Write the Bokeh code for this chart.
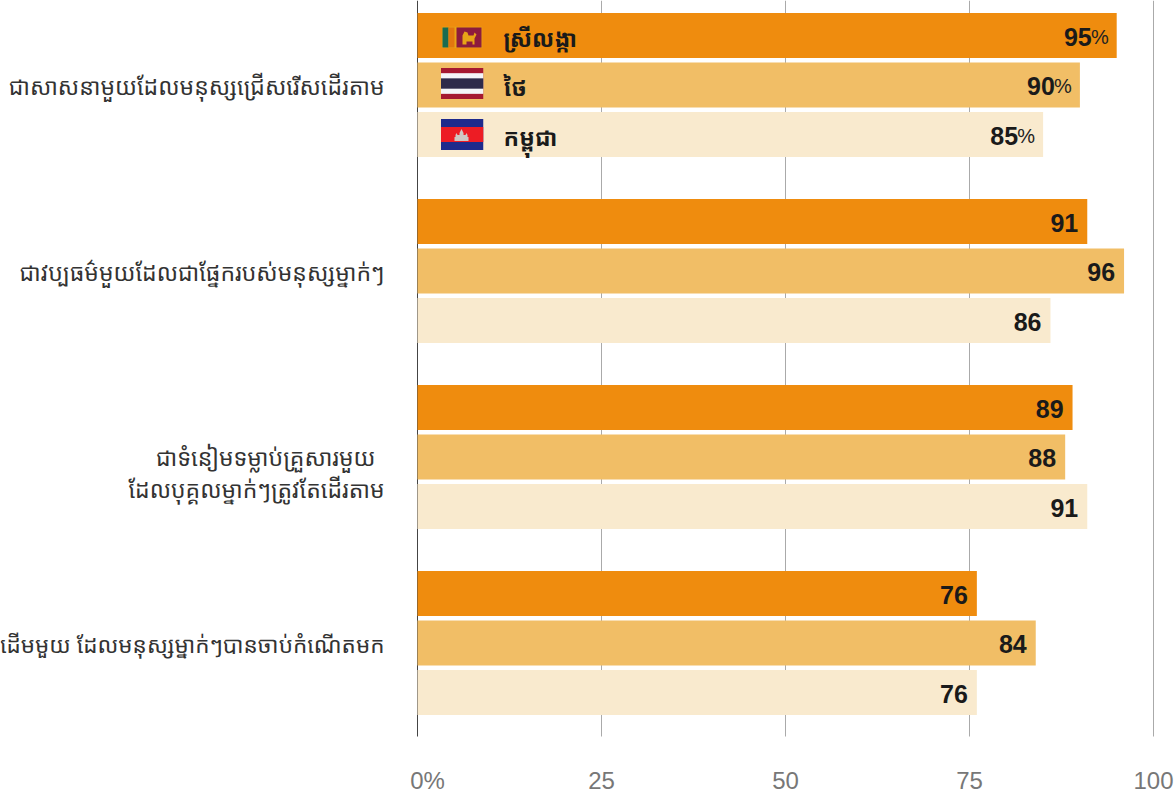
import base64
from bokeh.embed import file_html
from bokeh.resources import INLINE
from bokeh.plotting import figure
from bokeh.models import Range1d, FixedTicker, ColumnDataSource
from bokeh.core.properties import value

statements = [
    "ជាសាសនាមួយដែលមនុស្សជ្រើសរើសដើរតាម",
    "ជាវប្បធម៌មួយដែលជាផ្នែករបស់មនុស្សម្នាក់ៗ",
    "ជាទំនៀមទម្លាប់គ្រួសារមួយ\nដែលបុគ្គលម្នាក់ៗត្រូវតែដើរតាម",
    "ដើមមួយ ដែលមនុស្សម្នាក់ៗបានចាប់កំណើតមក",
]
countries = ["ស្រីលង្កា", "ថៃ", "កម្ពុជា"]
sri_lanka = [95, 91, 89, 76]
thailand = [90, 96, 88, 84]
cambodia = [85, 86, 91, 76]
x_ticks = [0, 25, 50, 75, 100]
x_labels = ["\u00a0\u00a0\u00a00%", "25", "50", "75", "100"]
colors = ["#EF8C0E", "#F1BE66", "#F9EACE"]

KHMER = "Noto Sans Khmer, Noto Serif Khmer, Khmer OS, Noto Sans"
PX = 7.36           # pixels per percentage point
ROW = 49.5          # pixels per bar row
GROUP_STEP = 186 / ROW
all_values = [sri_lanka, thailand, cambodia]
y_top = -35 / ROW
y_plot_bottom = 701 / ROW

p = figure(width=1176, height=792, output_backend="svg", toolbar_location=None,
           x_range=Range1d(-417 / PX, 759 / PX), y_range=Range1d(757 / ROW, y_top),
           min_border_left=0, min_border_right=0, min_border_top=0, min_border_bottom=0,
           outline_line_color=None, background_fill_color="white", border_fill_color="white")

# x axis, pinned to the foot of the gridlines
xa = p.xaxis[0]
xa.fixed_location = y_plot_bottom
xa.ticker = FixedTicker(ticks=x_ticks)
xa.major_label_overrides = dict(zip(x_ticks, x_labels))
xa.axis_line_color = None
xa.major_tick_line_color = None
xa.minor_tick_line_color = None
xa.major_tick_out = 0
xa.major_label_standoff = 30
xa.major_label_text_font = "Liberation Sans"
xa.major_label_text_font_size = "24px"
xa.major_label_text_color = "#777777"

p.yaxis.visible = False
p.grid.visible = False
n = len(x_ticks)
p.segment(x0=x_ticks, x1=x_ticks, y0=[y_top] * n, y1=[y_plot_bottom] * n,
          line_color=["#444444"] + ["#aaaaaa"] * (n - 1), line_width=1)

# statements, one row per line of text, left of the zero line
rows = dict(x=[], y=[], text=[], dx=[], dy=[], fs=[])
for g, st in enumerate(statements):
    lines = st.split("\n")
    for i, line in enumerate(lines):
        rows["x"].append(0)
        rows["y"].append(g * GROUP_STEP + 1)
        rows["text"].append(line)
        rows["dx"].append(-42 if len(lines) > 1 and i == 0 else -33)
        rows["dy"].append(1 if len(lines) == 1 else (0 if i == 0 else 32))
        rows["fs"].append("22.5px" if g == len(statements) - 1 else "23px")
p.text(x="x", y="y", text="text", y_offset="dy", x_offset="dx", text_font_size="fs",
       source=ColumnDataSource(rows), text_align="right", text_baseline="middle",
       text_font=value(KHMER), text_color="#333333")

# bars
for s, vals in enumerate(all_values):
    ys = [g * GROUP_STEP + s for g in range(len(vals))]
    p.hbar(y=ys, left=0, right=vals, height=45 / ROW, color=colors[s], line_color=None)
    off = [-25 if g == 0 else -9 for g in range(len(vals))]
    p.text(x=vals, y=ys, text=[str(v) for v in vals], x_offset=off, y_offset=1,
           text_align="right", text_baseline="middle", text_font=value("Liberation Sans"),
           text_font_style="bold", text_font_size="25px", text_color="#1a1a1a")
    p.text(x=[vals[0]], y=[ys[0]], text=["%"], x_offset=[-8], y_offset=1,
           text_align="right", text_baseline="middle", text_font=value("Liberation Sans"),
           text_font_size="20px", text_color="#222222")

# legend in the first group: flags and names
def uri(svg):
    return "data:image/svg+xml;base64," + base64.b64encode(svg.encode()).decode()

flag_lk = ('<svg xmlns="http://www.w3.org/2000/svg" width="41" height="22" viewBox="0 0 41 22" preserveAspectRatio="none">'
           '<rect width="41" height="22" fill="#E8A317"/><rect x="1" y="1" width="6" height="20" fill="#1B6B50"/>'
           '<rect x="7" y="1" width="6" height="20" fill="#E2760F"/><rect x="15" y="1" width="25" height="20" fill="#8D1B3D"/>'
           '<path d="M21 18v-9l2-4 3 1 1 3h5l1-3 2 2-2 4v6h-2v-3h-6v3z" fill="#E8A317"/></svg>')
flag_th = ('<svg xmlns="http://www.w3.org/2000/svg" width="43" height="31" viewBox="0 0 6 6" preserveAspectRatio="none">'
           '<rect width="6" height="6" fill="#A51931"/><rect y="1" width="6" height="4" fill="#F4F5F8"/>'
           '<rect y="2" width="6" height="2" fill="#2D2A4A"/></svg>')
flag_kh = ('<svg xmlns="http://www.w3.org/2000/svg" width="43" height="31" viewBox="0 0 43 31" preserveAspectRatio="none">'
           '<rect width="43" height="31" fill="#1E2A8C"/><rect y="8" width="43" height="15" fill="#ED1C24"/>'
           '<path d="M14 22v-4h1v-2l1-2 1 2h2v-2l2-4 2 4v2h2l1-2 1 2v2h1v4z" fill="#CFC8C4"/></svg>')
flags = [flag_lk, flag_th, flag_kh]
src = ColumnDataSource(dict(url=[uri(f) for f in flags],
                            x=[44.5 / PX] * 3, y=[0.04, 0.97, 2.0],
                            w=[41, 43, 43], h=[22, 31, 31]))
p.image_url(url="url", x="x", y="y", w="w", h="h", w_units="screen", h_units="screen",
            anchor="center", source=src)
p.text(x=[86 / PX] * 3, y=[0.0, 1.0, 2.0], text=countries, y_offset=[2, 2, 2],
       text_align="left", text_baseline="middle", text_font=value(KHMER),
       text_font_style="bold", text_font_size="23px", text_color="#1a1a1a")

open("out.html", "w").write(file_html(p, INLINE))
